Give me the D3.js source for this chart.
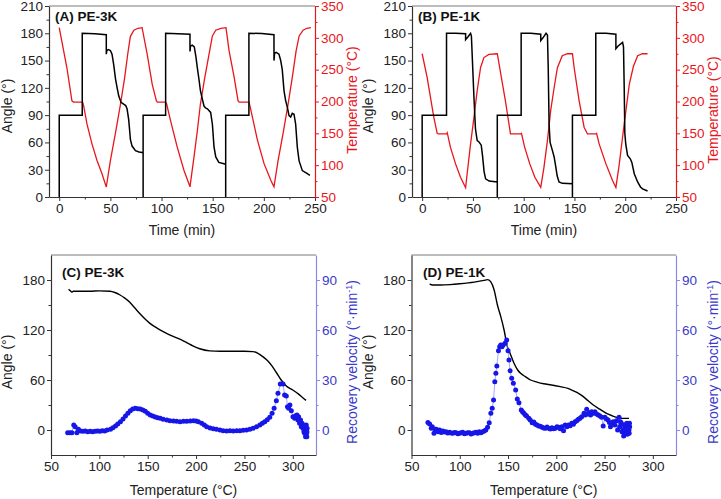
<!DOCTYPE html>
<html><head><meta charset="utf-8">
<script src="https://cdn.jsdelivr.net/npm/d3@7"></script>
<style>
body{margin:0;background:#fff}
text{font-family:"Liberation Sans",Arial,Helvetica,sans-serif}
</style>
</head><body>
<svg id="chart" width="721" height="499"></svg>
<script>
// ---------- DATA ----------
const timeTicks = [0, 50, 100, 150, 200, 250];
const timeMinor = [25, 75, 125, 175, 225];
const angleTicksTop = [0, 30, 60, 90, 120, 150, 180, 210];
const angleMinorTop = [15, 45, 75, 105, 135, 165, 195];
const tempTicks = [50, 100, 150, 200, 250, 300, 350];
const tempMinor = [75, 125, 175, 225, 275, 325];
const tempAxisTicks = [50, 100, 150, 200, 250, 300];
const tempAxisMinor = [75, 125, 175, 225, 275];
const angleTicksBot = [0, 60, 120, 180];
const angleMinorBot = [30, 90, 150];
const velTicks = [0, 30, 60, 90];
const velMinor = [15, 45, 75];

// Panel A: PE-3K angle vs time  [time (min), angle (deg)]
const angleA = [
  [0,0],[0,90],[22.5,90],[22.5,180],[35,179.5],[46,178.5],[46,157],[46.5,161],[48,162],[50,161],
  [51.6,157],[53.3,145],[55,130],[56.6,120],[58.2,111],[60.5,104],[63,102],[65,100.5],[66.3,97],
  [67.9,85],[69.6,63],[71.2,56],[74.5,51],[78,49.5],[81,49],[82,48],[82,0],
  [82,90],[104,90],[104,180],[116,179.5],[127.8,179],[127.8,160],[128.3,166],[130,167],[132,165],
  [133.5,155],[135,142],[136.5,130],[138,117],[140,107],[141.5,100],[143,98],[144.8,97],[148,93],
  [149.7,80],[151.3,55],[153,44],[156,38],[161,36.5],[162.7,36],[162.7,0],
  [162.7,90],[185.4,90],[185.4,180],[198,179.8],[209.9,178.5],[209.9,150],[210.5,158],[212,159],
  [214.8,157],[216.5,150],[218,140],[219.7,117],[221.3,106],[223,98.6],[224.6,89.5],[226.2,88],
  [227.8,92],[229.5,91],[231.1,80],[232.7,55],[234.4,40],[237.6,29],[242.5,25.6],[245,23.7]
];
// Panel A: temperature vs time  [time (min), T (C)]
const tempA = [
  [0,316],[7.5,253],[12.4,201],[14,199],[22.9,199],[23.9,193],[27.1,165],[32,133.5],[37,107],
  [41.8,86.5],[46,65.7],[50,107],[54.9,150],[59.8,195],[64,238],[67,275],[69.5,302],[73,312],
  [77,315],[81,316],
  [86,274],[90.9,227],[95,201],[96,199],[104,199],[105,196],[108.8,170],[115.4,128],[121.9,92],
  [127.8,66],[131.7,112.6],[135,154],[138,196],[142,235],[146.4,274],[149.7,303],[153,312],
  [158,315],[163,316],
  [166,280],[171,238],[174.8,201],[176,199],[185.4,199],[186.4,193],[193.8,139],[200.3,102],
  [206.9,76],[209.9,66],[213.9,107],[218.8,150],[223.7,196],[228,240],[231.5,279],[234.5,303],
  [238.4,312],[242,315],[246,316]
];

// Panel B: PE-1K angle vs time
const angleB = [
  [0,0],[0,90],[24,90],[24,180],[33,180],[42.8,179.5],[42.8,173],[45,176],[47.7,180],[48.5,177],
  [49.5,150],[51,110],[52.5,75],[54.2,62],[56,60.5],[58.2,57],[59.5,45],[61,28],[62.5,20],[66,17.5],
  [70,17],[74,16.5],[74,0],
  [74,90],[97.5,90],[97.5,180],[107,180],[116.8,179],[116.8,172],[119,175],[122,180],[123.4,178],
  [124.2,140],[125,80],[126,60],[128.3,51],[130,44],[131.6,33],[133,23],[134.8,16.5],[138,15],
  [148,14.6],[148,0],
  [148,90],[171,90],[171,180],[181,180],[190.8,179],[190.8,163],[193,166],[197.4,170],[198.3,165],
  [199,120],[199.6,70],[200.5,58.5],[202.3,45.7],[205,42],[206.5,38],[208.9,25.6],[212.2,16.5],
  [215,11],[217.1,9],[222,6.6]
];
// Panel B: temperature vs time
const tempB = [
  [0,275],[4.9,238],[8.2,206.5],[11.5,175],[14.8,150],[16,149],[24,149],[24.7,151],[27.9,128],
  [32.9,102],[37.8,81],[42.8,64.6],[44.3,86.5],[47.7,133.5],[51,175],[54.2,217],[57.5,253],
  [60.8,269],[65.7,274],[74,275],
  [78,238],[82,201],[87,149],[88.5,149],[97,149],[97.8,150],[101,128],[106,102],[111,81],
  [116.8,65],[120,97],[123.5,140],[126.6,186],[130,222],[133.2,253],[138,272],[143,275],[148,275],
  [149.7,253],[154.6,201],[159.5,159.6],[162.8,149],[171,149],[171.8,150],[174.3,133.5],[181,102],
  [187.5,76],[190.8,65],[194,100],[199,165],[204,227],[208,255],[212.2,272],[217,275],[222,275]
];

// Panel C: PE-3K angle vs temperature  [T (C), angle]
const angleC = [
  [68.2,169],[70,167],[71.5,165.5],[73,166.5],[80,166.5],[90,166.5],[100,167],[111,166.5],[116,165],
  [121.4,162],[126,158.5],[131.7,153],[137,146],[142,139.5],[147,133.5],[152.3,128],[160,122],
  [169.5,116],[178,111.5],[186.7,107],[195,102],[203.8,97.5],[214,95],[225,94.5],[238,94.5],
  [250,94.5],[258.8,94],[264,92],[269,88],[274,83],[279,76],[283,69],[288,60],[293,53],[300,48],
  [306,43],[310,39],[313.7,35.5]
];
// Panel C: recovery velocity  [T (C), velocity (deg/min)]
const velC = [
  [67.2,-1.6],[69.5,-1.6],[71.6,-1.6],[73.5,3],[75,2],[76.7,-1.6],[78.4,0.4],[80.5,-0.6],[83,-0.8],
  [85.5,-0.6],[88,-1],[90.5,-0.8],[93,-1],[95.5,-0.8],[98,-0.6],[100.5,-0.8],[103,-0.4],[105.5,-0.6],
  [108,0],[111.5,0.4],[114,1.4],[116.7,2.4],[119,3.6],[121.8,5],[124.5,6.6],[127,8.4],[129.5,10],
  [132,11.6],[134.5,12.6],[137.2,13],[139.8,12.8],[142.3,12.6],[145,12],[147.5,11.2],[150,10],
  [152.6,9],[155.2,8.4],[157.8,7.8],[160.4,7.4],[162.9,7],[166,6.4],[169.8,6],[173,5.6],[176.7,5.4],
  [180,5.2],[183.5,5],[187,5.2],[190.4,5.2],[194,5.4],[197.3,5.6],[200,5.4],[202.4,5],[205.8,4],
  [208.5,3],[211,2],[214.5,1.2],[217.8,0.8],[221,0.4],[224.7,0],[228,-0.4],[231.6,-0.6],[235,-0.4],
  [238.4,-0.6],[242,-0.4],[245.3,-0.4],[248.7,-0.2],[252.2,0],[255.6,0.4],[259,1],[262.5,2],
  [265.9,3],[268.5,4],[271,5],[273.6,6.2],[276.2,7.6],[278.6,10],[280.7,13],[283,17.6],[284.7,22],
  [287.1,27.6],[289.9,27.6],[291.5,21],[293.3,20.4],[294.5,14],[295.7,13],[297,15],[298.5,11.6],
  [300.2,8],[301.9,7],[303,8.5],[304.3,9],[305.3,6],[306,8],[307,4],[308,6],[308.8,2],[309.5,4],
  [310.5,1],[311,3],[311.5,-1],[312.2,-2],[312.6,2],[313.2,-4],[313.6,0],[313.9,3],[314.3,-2],
  [314.6,-1],[314.8,1],[314.5,-4]
];

// Panel D: PE-1K angle vs temperature
const angleD = [
  [68.8,175],[72,174],[80,174],[90,174.5],[100,175.5],[115,177.5],[125,179.5],[128.8,180.5],
  [132,178],[135.6,168],[139,150],[142.5,136],[145.9,120],[149.3,100],[152.5,91],[156.2,80],
  [160,72],[163,68],[168,64],[173.3,60],[180,57.5],[187,55.5],[195,54],[204,52],[212,50],
  [217.8,47],[223,44],[228,40],[233,35],[238.3,30],[245,25],[252,20],[258,17],[262.3,15.2],
  [268,14],[275.3,14]
];
// Panel D: recovery velocity
const velD = [
  [67,4.5],[68.8,3.6],[70.5,1],[71.5,2],[73.3,-2],[74.5,0.5],[75.7,0.4],[77.5,-1],[79.1,0],
  [80.8,-1.5],[82.5,-0.6],[84.2,-1.2],[85.9,-1],[87.6,-1.8],[89.4,-1.4],[91,-1.8],[92.8,-2],
  [94.5,-1.5],[96.2,-1.6],[98,-2.2],[99.7,-2],[101.4,-1.6],[103.1,-1.4],[104.8,-2.2],[106.5,-2],
  [108.2,-1.6],[110,-1.6],[111.7,-2.4],[113.4,-2],[115.1,-1.6],[116.8,-1.4],[118.5,-2],[120.2,-1],
  [122,-1.6],[123.6,-1],[125.3,-0.6],[127,0],[128.8,1.6],[130.5,4.4],[132.2,10],[133.6,13],
  [135,18],[136.3,29],[137.4,34],[138.4,38.4],[140.1,47.6],[141.3,50],[142.5,51],[143.7,50],
  [144.9,51],[146.9,52],[148.6,54],[150,47.6],[151,42],[152.1,35.6],[153.8,31],[155.5,28],
  [157.9,24],[159.6,18.6],[161.3,16.4],[163.7,12],[165,11],[166.4,10],[168,9],[169.2,8.4],
  [171.5,7],[173,6],[175,4.4],[176.7,4.8],[178.4,3.4],[180,3],[181.8,2.4],[183.5,2.2],[185.3,1.6],
  [187,1.2],[188.7,1],[190.4,1.8],[192.1,1],[193.8,0.6],[195.5,1.4],[197.2,0.8],[199,1],[200.7,2],
  [202.4,1.6],[204,0.8],[205.8,2],[207.5,-0.4],[209.2,3],[211,2],[212.6,3],[214.3,2.6],[216,4],
  [217.7,3.4],[219.5,5],[221.2,5.6],[222.9,6.4],[224.6,7],[226.3,8],[228.7,10],[230,9],[231.5,12.4],
  [233,9.6],[234.2,10.4],[235.5,9],[236.6,11],[238.4,10],[240,11],[241.7,9.6],[243.5,9],[245.2,8.4],
  [246.9,7.6],[248.6,2.4],[250.3,7.6],[252,6.6],[253.7,6],[255,4.5],[256.1,2],[257.5,4],[258.9,5],
  [260.6,3],[262.3,5.6],[263.5,0],[265,7.6],[265.7,2],[266.5,5],[267.4,4],[268,-1],[269.1,0],
  [269.8,-3.6],[270.4,3],[270.8,1],[271.5,-2],[271.9,3],[272.6,-1],[273,4],[273.5,-2.5],[274.3,2],
  [274.8,-1],[275.3,0],[275.5,-2],[276,2],[275.8,4]
];

// ---------- DRAWING ----------
const svg = d3.select("#chart");
const RED = "#e8161c", BLUE = "#1616e8", BLUE_AX = "#8a8ae6", BLUE_TXT = "#3a3acc";
const FS = 13.5;

function styleAxis(g, color, textColor) {
  g.select(".domain").attr("stroke", color).attr("stroke-width", 1.2);
  g.selectAll(".tick line").attr("stroke", color).attr("stroke-width", 1);
  g.selectAll(".tick text").attr("fill", textColor).style("font-size", FS + "px")
    .style("font-family", '"Liberation Sans",Arial,sans-serif');
}

function panel(o) {
  const x = d3.scaleLinear().domain(o.xDom).range([o.l, o.r]);
  const y = d3.scaleLinear().domain(o.yDom).range([o.b, o.t]);
  const y2 = d3.scaleLinear().domain(o.y2Dom).range([o.b, o.t]);
  const g = svg.append("g");

  g.append("line").attr("x1", o.l).attr("x2", o.r).attr("y1", o.t).attr("y2", o.t)
    .attr("stroke", "#7a7a7a").attr("stroke-width", 1);

  const gx = g.append("g").attr("transform", `translate(0,${o.b})`)
    .call(d3.axisBottom(x).tickValues(o.xTicks).tickSize(4).tickSizeOuter(0).tickPadding(2.5));
  styleAxis(gx, "#333", "#222");
  g.append("g").attr("transform", `translate(0,${o.b})`)
    .call(d3.axisBottom(x).tickValues(o.xMinor).tickSize(2.5).tickFormat("").tickSizeOuter(0))
    .call(s => { s.select(".domain").remove(); s.selectAll("line").attr("stroke", "#333"); });

  const gy = g.append("g").attr("transform", `translate(${o.l},0)`)
    .call(d3.axisLeft(y).tickValues(o.yTicks).tickSize(4).tickSizeOuter(0).tickPadding(2));
  styleAxis(gy, "#333", "#222");
  g.append("g").attr("transform", `translate(${o.l},0)`)
    .call(d3.axisLeft(y).tickValues(o.yMinor).tickSize(2.5).tickFormat("").tickSizeOuter(0))
    .call(s => { s.select(".domain").remove(); s.selectAll("line").attr("stroke", "#333"); });

  const gy2 = g.append("g").attr("transform", `translate(${o.r},0)`)
    .call(d3.axisRight(y2).tickValues(o.y2Ticks).tickSize(4).tickSizeOuter(0).tickPadding(2));
  styleAxis(gy2, o.y2Color, o.y2Text);
  g.append("g").attr("transform", `translate(${o.r},0)`)
    .call(d3.axisRight(y2).tickValues(o.y2Minor).tickSize(2.5).tickFormat("").tickSizeOuter(0))
    .call(s => { s.select(".domain").remove(); s.selectAll("line").attr("stroke", o.y2Color); });

  const clip = "clip" + o.id;
  svg.append("clipPath").attr("id", clip).append("rect")
    .attr("x", o.l).attr("y", o.t).attr("width", o.r - o.l).attr("height", o.b - o.t);
  const inner = g.append("g").attr("clip-path", `url(#${clip})`);

  if (o.type === "time") {
    inner.append("path").datum(o.s2)
      .attr("d", d3.line().x(d => x(d[0])).y(d => y2(d[1])))
      .attr("fill", "none").attr("stroke", RED).attr("stroke-width", 1.3);
    inner.append("path").datum(o.s1)
      .attr("d", d3.line().x(d => x(d[0])).y(d => y(d[1])))
      .attr("fill", "none").attr("stroke", "#000").attr("stroke-width", 1.5);
  } else {
    inner.append("path").datum(o.s1)
      .attr("d", d3.line().curve(d3.curveMonotoneX).x(d => x(d[0])).y(d => y(d[1])))
      .attr("fill", "none").attr("stroke", "#000").attr("stroke-width", 1.4);
    inner.append("path").datum(o.s2)
      .attr("d", d3.line().x(d => x(d[0])).y(d => y2(d[1])))
      .attr("fill", "none").attr("stroke", "#8080ff").attr("stroke-width", 0.7);
    inner.selectAll("circle.v").data(o.s2).join("circle")
      .attr("cx", d => x(d[0])).attr("cy", d => y2(d[1])).attr("r", 2.5)
      .attr("fill", BLUE);
  }

  g.append("text").attr("x", o.titleX).attr("y", o.titleY)
    .style("font-size", "13.5px").style("font-weight", "bold").attr("fill", "#111").text(o.title);

  g.append("text").attr("x", (o.l + o.r) / 2).attr("y", o.xTitleY).attr("text-anchor", "middle")
    .style("font-size", "14px").attr("fill", "#222").text(o.xTitle);
  g.append("text").attr("transform", `translate(${o.yTitleX},${o.yTitleCY}) rotate(-90)`)
    .attr("text-anchor", "middle").style("font-size", "14px").attr("fill", "#222").text("Angle (°)");
  const t2 = g.append("text").attr("transform", `translate(${o.y2TitleX},${o.y2TitleCY}) rotate(-90)`)
    .attr("text-anchor", "middle").style("font-size", "14px").attr("fill", o.y2Text);
  if (o.type === "time") {
    t2.text("Temperature (°C)");
  } else {
    t2.append("tspan").text("Recovery velocity (°·min");
    t2.append("tspan").attr("dy", -5).style("font-size", "9px").text("-1");
    t2.append("tspan").attr("dy", 5).text(")");
  }
}

const common = {
  xTicks: timeTicks, xMinor: timeMinor, yTicks: angleTicksTop, yMinor: angleMinorTop,
  y2Ticks: tempTicks, y2Minor: tempMinor, xDom: [-10, 250], yDom: [0, 210], y2Dom: [50, 350],
  y2Color: RED, y2Text: RED, type: "time", xTitle: "Time (min)", t: 6, b: 197, xTitleY: 235
};
panel(Object.assign({}, common, { id: "A", l: 49, r: 315, s1: angleA, s2: tempA,
  title: "(A) PE-3K", titleX: 55, titleY: 21, yTitleX: 12, yTitleCY: 106, y2TitleX: 357, y2TitleCY: 100 }));
panel(Object.assign({}, common, { id: "B", l: 412, r: 676, s1: angleB, s2: tempB,
  title: "(B) PE-1K", titleX: 418, titleY: 21, yTitleX: 373, yTitleCY: 106, y2TitleX: 718, y2TitleCY: 110 }));

const common2 = {
  xTicks: tempAxisTicks, xMinor: tempAxisMinor, yTicks: angleTicksBot, yMinor: angleMinorBot,
  y2Ticks: velTicks, y2Minor: velMinor, xDom: [50, 324], yDom: [-30, 210], y2Dom: [-15, 105],
  y2Color: BLUE_AX, y2Text: BLUE_TXT, type: "temp", xTitle: "Temperature (°C)", t: 255, b: 455, xTitleY: 495
};
panel(Object.assign({}, common2, { id: "C", l: 51, r: 316, s1: angleC, s2: velC,
  title: "(C) PE-3K", titleX: 62, titleY: 277, yTitleX: 12, yTitleCY: 362, y2TitleX: 357, y2TitleCY: 362 }));
panel(Object.assign({}, common2, { id: "D", l: 411.5, r: 676, s1: angleD, s2: velD,
  title: "(D) PE-1K", titleX: 423, titleY: 277, yTitleX: 373, yTitleCY: 362, y2TitleX: 718, y2TitleCY: 362 }));
</script>
</body></html>
